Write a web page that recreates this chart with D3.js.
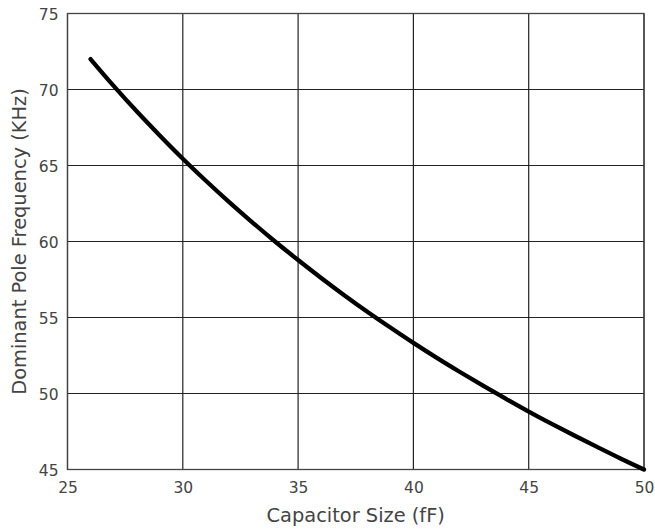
<!DOCTYPE html>
<html>
<head>
<meta charset="utf-8">
<script src="https://cdn.jsdelivr.net/npm/d3@7"></script>
<style>
  html, body { margin: 0; padding: 0; background: #fff; }
  svg { display: block; }
  text { font-family: "DejaVu Sans", sans-serif; fill: #444; }
</style>
</head>
<body>
<svg id="chart" width="655" height="529"></svg>
<script>
// Capacitor size (fF) and the resulting dominant pole frequency (KHz)
const capacitance = [26, 27, 28, 29, 30, 31, 32, 33, 34, 35, 36, 37, 38,
                     39, 40, 41, 42, 43, 44, 45, 46, 47, 48, 49, 50];
const frequency   = [72.00, 70.24, 68.57, 66.98, 65.45, 64.00, 62.61, 61.28,
                     60.00, 58.78, 57.60, 56.47, 55.38, 54.34, 53.33, 52.36,
                     51.43, 50.53, 49.66, 48.81, 48.00, 47.22, 46.46, 45.71, 45.00];
const xTicks = [25, 30, 35, 40, 45, 50];
const yTicks = [45, 50, 55, 60, 65, 70, 75];
const xTitle = "Capacitor Size (fF)";
const yTitle = "Dominant Pole Frequency (KHz)";

const points = capacitance.map((c, i) => ({ c, f: frequency[i] }));

const svg = d3.select("#chart");
const plot = { left: 67.5, right: 644, top: 13.5, bottom: 469.5 };

const x = d3.scaleLinear().domain([25, 50]).range([plot.left, plot.right]);
const y = d3.scaleLinear().domain([45, 75]).range([plot.bottom, plot.top]);

// Grid lines
const grid = svg.append("g").attr("stroke", "#222").attr("stroke-width", 1.2);
grid.selectAll("line.vx").data(xTicks).join("line")
  .attr("x1", d => x(d)).attr("x2", d => x(d))
  .attr("y1", plot.top).attr("y2", plot.bottom);
grid.selectAll("line.hy").data(yTicks).join("line")
  .attr("x1", plot.left).attr("x2", plot.right)
  .attr("y1", d => y(d)).attr("y2", d => y(d));

// Frame
svg.append("rect")
  .attr("x", plot.left).attr("y", plot.top)
  .attr("width", plot.right - plot.left).attr("height", plot.bottom - plot.top)
  .attr("fill", "none").attr("stroke", "#444").attr("stroke-width", 1.3);

// Axes (labels only, no tick marks)
const xAxis = svg.append("g")
  .attr("transform", `translate(0,${plot.bottom})`)
  .call(d3.axisBottom(x).tickValues(xTicks).tickSize(0).tickPadding(12).tickFormat(d3.format("d")));
const yAxis = svg.append("g")
  .attr("transform", `translate(${plot.left},0)`)
  .call(d3.axisLeft(y).tickValues(yTicks).tickSize(0).tickPadding(9).tickFormat(d3.format("d")));
[xAxis, yAxis].forEach(a => {
  a.select(".domain").remove();
  a.selectAll("text").attr("font-family", "DejaVu Sans").attr("font-size", 15.5).attr("fill", "#444");
});
yAxis.selectAll("text").attr("dy", "0.4em");

// Curve
svg.append("path")
  .datum(points)
  .attr("fill", "none")
  .attr("stroke", "#000")
  .attr("stroke-width", 4.3)
  .attr("stroke-linecap", "round")
  .attr("stroke-linejoin", "round")
  .attr("d", d3.line().x(d => x(d.c)).y(d => y(d.f)).curve(d3.curveMonotoneX));

// Axis titles
svg.append("text")
  .attr("x", (plot.left + plot.right) / 2).attr("y", 521.5)
  .attr("text-anchor", "middle").attr("font-size", 19.4)
  .text(xTitle);
svg.append("text")
  .attr("transform", `translate(26,${(plot.top + plot.bottom) / 2}) rotate(-90)`)
  .attr("text-anchor", "middle").attr("font-size", 19.4)
  .text(yTitle);
</script>
</body>
</html>
